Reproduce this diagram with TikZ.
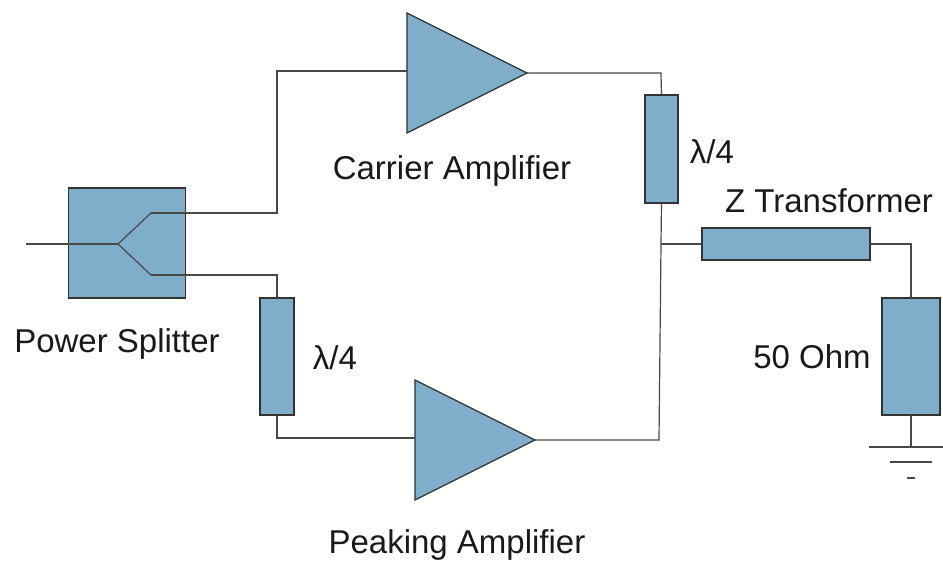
\documentclass[tikz,border=0pt]{standalone}
\usepackage{fontspec}
\setmainfont{Liberation Sans}
\usetikzlibrary{shapes.geometric}
\definecolor{boxblue}{HTML}{7FAECB}
\definecolor{wiregray}{HTML}{484848}
\begin{document}
\begin{tikzpicture}[x=1pt,y=-1pt]
		\tikzset{block/.style = {draw=black!80, fill=boxblue, line width=1.2pt, inner sep=0pt, outer sep=0pt}}
		\tikzset{amp/.style = {block, isosceles triangle, isosceles triangle stretches, minimum width=120pt, minimum height=120pt}}
		\tikzset{label/.style = {font=\fontsize{33}{36}\selectfont, inner sep=0pt, text=black!90}}
		\tikzset{wire/.style = {draw=wiregray, line width=1.2pt}}
		
		\useasboundingbox (0,0) rectangle (943,560);
		
		\node[block, minimum width=117pt, minimum height=110pt] (split) at (127,243) {};
		\node[block, minimum width=34pt, minimum height=117pt] (qwave2) at (277,356.5) {};
		\node[block, minimum width=33pt, minimum height=108pt] (qwave1) at (661.5,149) {};
		\node[block, minimum width=168pt, minimum height=32pt] (ztrans) at (786,244) {};
		\node[block, minimum width=58pt, minimum height=117pt] (load) at (911,356.5) {};
		\node[amp] (carrier) at (444,73) {};
		\node[amp] (peaking) at (452,440) {};
		
		\node[label] (l1) at (452,171) {Carrier Amplifier};
		\node[label] (l2) at (712,152) {λ/4};
		\node[label] (l3) at (829,201) {Z Transformer};
		\node[label] (l4) at (117,344) {Power Splitter};
		\node[label] (l5) at (335,358) {λ/4};
		\node[label] (l6) at (812,357) {50 Ohm};
		\node[label] (l7) at (457,544.5) {Peaking Amplifier};
		
		\coordinate (in) at (26,244);
		\coordinate (fork) at (118,244);
		\coordinate (up) at (151,213);
		\coordinate (down) at (151,275);
		\coordinate (upturn) at (277,213);
		\coordinate (upend) at (277,71);
		\coordinate (carrierin) at (407,71);
		\coordinate (downturn) at (277,275);
		\coordinate (peakturn) at (277,438);
		\coordinate (peakin) at (415,438);
		\coordinate (outturn) at (661,73);
		\coordinate (sum) at (661,244);
		\coordinate (peakout) at (659,440);
		\coordinate (loadturn) at (911,244);
		\coordinate (gnd1) at (911,447);
		\coordinate (gnd1l) at (869,447);
		\coordinate (gnd1r) at (943,447);
		\coordinate (gnd2l) at (890,462);
		\coordinate (gnd2r) at (932,462);
		\coordinate (gnd3l) at (907,478);
		\coordinate (gnd3r) at (915,478);
		
		\draw[wire] (in) to (fork);
		\draw[wire] (fork) to (up);
		\draw[wire] (fork) to (down);
		\draw[wire] (up) -- (upturn) -- (upend) -- (carrierin);
		\draw[wire] (down) -- (downturn) -- (qwave2.north);
		\draw[wire] (qwave2.south) -- (peakturn) -- (peakin);
		\draw[wire] (carrier.apex) -- (outturn) -- (qwave1.north);
		\draw[wire] (qwave1.south) to (sum);
		\draw[wire] (sum) -- (peakout) -- (peaking.apex);
		\draw[wire] (sum) to (ztrans.west);
		\draw[wire] (ztrans.east) -- (loadturn) -- (load.north);
		\draw[wire] (load.south) to (gnd1);
		\draw[wire] (gnd1l) to (gnd1r);
		\draw[wire] (gnd2l) to (gnd2r);
		\draw[wire] (gnd3l) to (gnd3r);
\end{tikzpicture}
\end{document}
